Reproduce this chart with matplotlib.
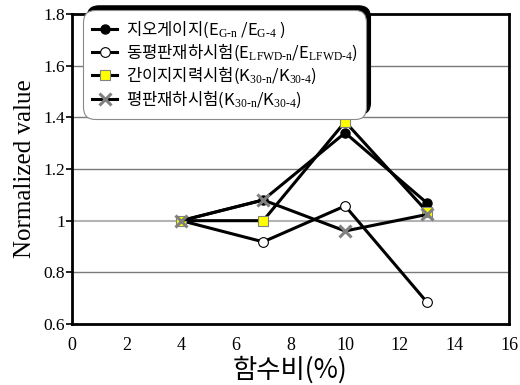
import matplotlib
matplotlib.use("Agg")
import matplotlib.pyplot as plt

plt.rcParams["font.family"] = ["Noto Sans CJK KR", "DejaVu Sans"]
plt.rcParams["mathtext.fontset"] = "custom"
plt.rcParams["mathtext.rm"] = "Liberation Serif"
plt.rcParams["mathtext.it"] = "Liberation Serif:italic"

# Water content (%)
water_content = [4, 7, 10, 13]

# Normalized values for each test method
geogauge = [1.0, 1.08, 1.34, 1.068]
lfwd = [1.0, 0.918, 1.057, 0.684]
simple_bearing = [1.0, 1.0, 1.383, 1.035]
plate_load = [1.0, 1.08, 0.96, 1.024]

labels = [
    r"지오게이지(E$_{\mathrm{G\text{-}n}}$ /E$_{\mathrm{G\text{-}4}}$ )",
    r"동평판재하시험(E$_{\mathrm{LFWD\text{-}n}}$/E$_{\mathrm{LFWD\text{-}4}}$)",
    r"간이지지력시험(K$_{\mathrm{30\text{-}n}}$/K$_{\mathrm{30\text{-}4}}$)",
    r"평판재하시험(K$_{\mathrm{30\text{-}n}}$/K$_{\mathrm{30\text{-}4}}$)",
]

y_ticks = [0.6, 0.8, 1.0, 1.2, 1.4, 1.6, 1.8]
y_tick_labels = ["0.6", "0.8", "1", "1.2", "1.4", "1.6", "1.8"]
x_ticks = [0, 2, 4, 6, 8, 10, 12, 14, 16]

fig = plt.figure(figsize=(5.2, 3.85), dpi=100)
ax = fig.add_axes([72 / 520, 61 / 385, 437 / 520, 310 / 385])

# horizontal grid lines
for yv in [0.8, 1.2, 1.4, 1.6]:
    ax.axhline(yv, color="#7a7a7a", lw=1.0, zorder=1)
ax.axhline(1.0, color="#b4b4b4", lw=1.5, zorder=1)

lw = 2.2
ax.plot(water_content, geogauge, color="black", lw=lw, marker="o", ms=6.5,
        mfc="black", mec="black", label=labels[0], zorder=3)
ax.plot(water_content, lfwd, color="black", lw=lw, marker="o", ms=7,
        mfc="white", mec="black", mew=0.8, label=labels[1], zorder=3)
ax.plot(water_content, simple_bearing, color="black", lw=lw, marker="s", ms=7,
        mfc="#ffff00", mec="#808080", mew=0.8, label=labels[2], zorder=3)
ax.plot(water_content, plate_load, color="black", lw=lw, marker="x", ms=8,
        mec="#808080", mew=2.2, label=labels[3], zorder=3)

ax.set_xlim(0, 16)
ax.set_ylim(0.6, 1.8)
ax.set_xticks(x_ticks)
ax.set_xticklabels([str(v) for v in x_ticks], family="Liberation Serif", fontsize=13)
ax.set_yticks(y_ticks)
ax.set_yticklabels(y_tick_labels, family="Liberation Serif", fontsize=12.5)
ax.tick_params(axis="x", length=0, pad=9)
ax.tick_params(axis="y", length=4, width=1.2, direction="out", pad=1)
for s in ax.spines.values():
    s.set_linewidth(2.0)

ax.set_ylabel("Normalized value", family="Liberation Serif", fontsize=18, labelpad=5)
ax.set_xlabel("함수비(%)", fontsize=19, labelpad=2)

leg = ax.legend(loc="upper left", bbox_to_anchor=(83 / 520, 375 / 385),
                bbox_transform=fig.transFigure, borderaxespad=0,
                fontsize=12, handlelength=1.5, handletextpad=0.5,
                labelspacing=0.12, borderpad=0.55, fancybox=True,
                framealpha=1, edgecolor="#8a8a8a",
                shadow={"ox": 3, "oy": 3, "color": "black", "alpha": 1})
frame = leg.get_frame()
frame.set_linewidth(0.8)
frame.set_boxstyle("round", pad=0, rounding_size=0.7)
leg.set_zorder(5)

fig.savefig("out.png", dpi=100)
